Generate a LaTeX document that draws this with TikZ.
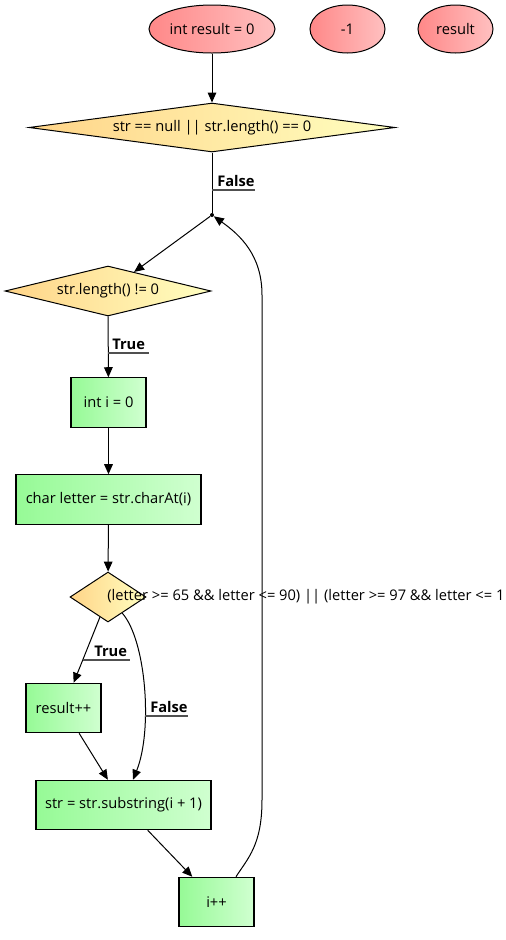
\documentclass[tikz,border=0pt]{standalone}
\usepackage{fontspec}
\setmainfont{Open Sans}
\usetikzlibrary{shapes.geometric,arrows.meta}

\definecolor{ellL}{RGB}{255,136,136}
\definecolor{ellR}{RGB}{255,192,192}
\definecolor{decL}{RGB}{255,212,136}
\definecolor{decR}{RGB}{255,255,192}
\definecolor{boxL}{RGB}{150,250,150}
\definecolor{boxR}{RGB}{208,255,208}
\definecolor{ulcol}{RGB}{80,80,80}

\begin{document}
\begin{tikzpicture}[x=0.75pt,y=-0.75pt,
  font=\fontsize{11}{13}\selectfont,
  every node/.style={inner sep=0pt},
  startnode/.style={ellipse, draw, line width=0.75pt, left color=ellL, right color=ellR, minimum height=36pt},
  decision/.style={diamond, draw, line width=0.75pt, left color=decL, right color=decR},
  action/.style={rectangle, draw, line width=0.9pt, left color=boxL, right color=boxR, minimum width=56.25pt, minimum height=37pt},
  flow/.style={-{Triangle[length=7.5pt,width=6.5pt]}, line width=0.75pt},
  plain/.style={line width=0.75pt},
  edgelabel/.style={font=\fontsize{11}{13}\selectfont\bfseries, anchor=base west},
  underline/.style={ulcol, line width=0.9pt}
]
\useasboundingbox (0,0) rectangle (506,940);

% start values
\node[startnode, minimum width=94.5pt] (init) at (212,29) {int result = 0};
\node[startnode, minimum width=56.25pt] (neg) at (347.5,29) {-1};
\node[startnode, minimum width=56.25pt] (res) at (455.5,29) {result};

% decisions
\node[decision, aspect=7.5, minimum width=274.5pt, minimum height=36.75pt] (d1) at (212,127.5) {str == null || str.length() == 0};
\node[circle, fill, minimum size=3pt] (join) at (212,215) {};
\node[decision, aspect=4.1, minimum width=154.5pt, minimum height=37.5pt] (d2) at (108,291) {str.length() != 0};

% actions
\node[action] (ini) at (108.5,402.5) {int i = 0};
\node[action, minimum width=138.75pt] (chr) at (108.5,499.5) {char letter = str.charAt(i)};
\node[decision, aspect=1.5, minimum width=57pt, minimum height=37.5pt] (d3) at (108,597) {};
\node[anchor=west] (d3text) at (107,597) {(letter >= 65 \&\& letter <= 90) || (letter >= 97 \&\& letter <= 1};
\node[action] (inc) at (63.5,708) {result++};
\node[action, minimum width=131.25pt] (sub) at (123.5,805) {str = str.substring(i + 1)};
\node[action] (ipp) at (216.5,902) {i++};

% connectors
\draw[flow] (init) -- (d1);
\draw[plain] (d1) -- (join);
\draw[flow] (join) -- (d2);
\draw[flow] (d2) -- (ini);
\draw[flow] (ini) -- (chr);
\draw[flow] (chr) -- (d3);
\draw[flow] (d3) -- (inc);
\draw[flow] (d3) .. controls (146,640) and (153,730) .. (sub.north -| 133,0);
\draw[flow] (inc) -- (sub);
\draw[flow] (sub) -- (ipp);
\draw[flow] (ipp.north -| 236,0) .. controls (248,858) and (262,845) .. (262,800)
  -- (262,295) .. controls (262,255) and (240,235) .. (join);

% edge labels
\node[edgelabel] (lf1) at (217,186) {False};
\draw[underline] (212,190) -- (255,190);
\node[edgelabel] (lt1) at (112,349) {True};
\draw[underline] (108,353) -- (149,353);
\node[edgelabel] (lt2) at (94,656) {True};
\draw[underline] (83,660) -- (130,660);
\node[edgelabel] (lf2) at (150,712) {False};
\draw[underline] (145,716) -- (188,716);
\end{tikzpicture}
\end{document}
